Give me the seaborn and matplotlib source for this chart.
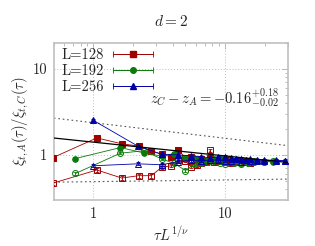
import numpy as np
import pandas as pd
import matplotlib
matplotlib.use("Agg")
import matplotlib.pyplot as plt
import seaborn as sns
from matplotlib.container import ErrorbarContainer
from matplotlib.legend_handler import HandlerErrorbar
from matplotlib.ticker import FixedLocator, FixedFormatter, LogLocator, NullFormatter

# ---------------- data ----------------
x128 = [0.49, 1.06, 1.64, 2.2, 2.75, 3.3, 3.9, 4.4, 5.0, 5.5, 6.1, 6.6, 7.2, 7.7, 8.3, 8.8, 9.9, 11.0, 12.1, 13.8, 15.4]
f128 = [0.93, 1.58, 1.35, 1.27, 1.11, 1.02, 0.95, 1.14, 0.93, 0.96, 0.87, 0.90, 0.86, 0.92, 0.88, 0.86, 0.87, 0.84, 0.82, 0.85, 0.81]
o128 = [0.47, 0.67, 0.54, 0.575, 0.575, 0.72, 0.75, 0.87, 0.85, 0.73, 0.76, 0.80, 0.82, 1.13, 0.82, 0.86, 0.84, 0.80, 0.85, 0.82, 0.84]
ef128 = [0.03, 0.04, 0.03, 0.03, 0.03, 0.03, 0.03, 0.03, 0.03, 0.03, 0.03, 0.03, 0.03, 0.03, 0.03, 0.03, 0.03, 0.03, 0.03, 0.03, 0.03]
eo128 = [0.02, 0.03, 0.03, 0.03, 0.03, 0.03, 0.03, 0.03, 0.03, 0.03, 0.03, 0.03, 0.03, 0.04, 0.03, 0.03, 0.03, 0.03, 0.03, 0.03, 0.03]

x192 = [0.73, 1.6, 2.4, 3.3, 4.1, 5.0, 5.8, 6.6, 7.4, 8.3, 9.1, 9.9, 11.6, 13.2, 14.9, 16.5, 19.8, 23.1]
f192 = [0.91, 1.22, 1.06, 0.97, 1.04, 0.93, 0.92, 0.90, 0.88, 0.90, 0.91, 0.88, 0.86, 0.87, 0.84, 0.85, 0.84, 0.83]
o192 = [0.61, 1.05, 1.12, 0.90, 0.80, 0.66, 0.78, 0.80, 0.84, 0.85, 0.81, 0.79, 0.80, 0.78, 0.81, 0.84, 0.83, 0.85]
ef192 = [0.04, 0.04, 0.03, 0.03, 0.03, 0.03, 0.03, 0.03, 0.03, 0.03, 0.03, 0.03, 0.03, 0.03, 0.03, 0.03, 0.03, 0.03]
eo192 = [0.02, 0.03, 0.03, 0.03, 0.03, 0.03, 0.03, 0.03, 0.03, 0.03, 0.03, 0.03, 0.03, 0.04, 0.03, 0.03, 0.03, 0.03]

x256 = [1.0, 2.17, 3.3, 4.4, 5.5, 6.6, 7.7, 8.8, 9.9, 11.0, 12.1, 13.2, 14.3, 15.4, 17.6, 19.8, 24.2, 28.6]
f256 = [2.52, 1.27, 1.02, 1.00, 0.98, 0.95, 0.93, 0.94, 0.96, 0.92, 0.90, 0.91, 0.88, 0.90, 0.87, 0.88, 0.86, 0.85]
o256 = [0.75, 0.79, 0.77, 0.84, 0.87, 0.85, 0.88, 0.87, 0.85, 0.86, 0.90, 0.84, 0.88, 0.86, 0.85, 0.86, 0.87, 0.86]
ef256 = [0.12, 0.05, 0.03, 0.03, 0.03, 0.03, 0.03, 0.03, 0.03, 0.03, 0.03, 0.03, 0.03, 0.03, 0.03, 0.03, 0.03, 0.03]
eo256 = [0.03, 0.03, 0.03, 0.03, 0.03, 0.03, 0.03, 0.03, 0.03, 0.03, 0.03, 0.03, 0.03, 0.03, 0.03, 0.03, 0.03, 0.03]

labels = ["L=128", "L=192", "L=256"]
fit_z = -0.16
fit_up = 0.18
fit_dn = 0.02
fit_amp = [1.41, 2.37, 0.49]

# ---------------- style ----------------
sns.set_theme(style="white")
plt.rcParams["font.family"] = ["cmr10", "DejaVu Serif"]
plt.rcParams["mathtext.fontset"] = "cm"
plt.rcParams["axes.unicode_minus"] = False
plt.rcParams["axes.formatter.use_mathtext"] = True

FS = 10.5

fig = plt.figure(figsize=(3.15, 2.46), dpi=100)
ax = fig.add_axes([0.171, 0.187, 0.743, 0.638])

colors = ["#a00000", "#0a7a0a", "#0000a8"]
markers = ["s", "o", "^"]
series = [(x128, f128, o128, ef128, eo128),
          (x192, f192, o192, ef192, eo192),
          (x256, f256, o256, ef256, eo256)]

for (x, f, o, ef, eo), c, m, lab in zip(series, colors, markers, labels):
    df = pd.DataFrame({"x": x, "f": f, "o": o})
    sns.lineplot(data=df, x="x", y="f", ax=ax, color=c, marker=m, markersize=4.0,
                 markeredgecolor=c, linewidth=0.6, sort=False, estimator=None, zorder=3)
    sns.lineplot(data=df, x="x", y="o", ax=ax, color=c, marker=m, markersize=4.3,
                 markerfacecolor="none", markeredgecolor=c, markeredgewidth=0.7,
                 linewidth=0.6, sort=False, estimator=None, zorder=3)
    ax.errorbar(x, f, yerr=ef, fmt="none", ecolor=c, elinewidth=0.6, capsize=1.5, capthick=0.6, zorder=3)
    ax.errorbar(x, o, yerr=eo, fmt="none", ecolor=c, elinewidth=0.6, capsize=1.5, capthick=0.6, zorder=3)

# fit lines
xx = np.array([0.5, 30.0])
ax.plot(xx, fit_amp[0] * xx ** fit_z, color="black", lw=0.9, zorder=4)
ax.plot(xx, fit_amp[1] * xx ** (fit_z - fit_dn), color="#555555", lw=0.8, ls=(0, (1.5, 2.5)), zorder=2)
ax.plot(xx, fit_amp[2] * xx ** (fit_z + fit_up), color="#555555", lw=0.8, ls=(0, (1.5, 2.5)), zorder=2)

ax.set_xscale("log")
ax.set_yscale("log")
ax.set_xlim(0.5, 30)
ax.set_ylim(0.3, 20)

ax.xaxis.set_major_locator(FixedLocator([1, 10]))
ax.xaxis.set_major_formatter(FixedFormatter(["1", "10"]))
ax.yaxis.set_major_locator(FixedLocator([1, 10]))
ax.yaxis.set_major_formatter(FixedFormatter(["1", "10"]))
ax.xaxis.set_minor_locator(LogLocator(base=10, subs=np.arange(2, 10)))
ax.yaxis.set_minor_locator(LogLocator(base=10, subs=np.arange(2, 10)))
ax.xaxis.set_minor_formatter(NullFormatter())
ax.yaxis.set_minor_formatter(NullFormatter())

ax.grid(True, which="major", color="#bbbbbb", linestyle=(0, (1, 2)), linewidth=0.7)
for sp in ax.spines.values():
    sp.set_color("#c0c0c0")
    sp.set_linewidth(1.2)
ax.tick_params(which="both", direction="in", top=True, right=True, color="#b0b0b0", labelsize=FS, pad=5)
ax.tick_params(which="major", length=4, width=0.6)
ax.tick_params(which="minor", length=2.5, width=0.6)

ax.set_xlabel(r"$\tau L^{1/\nu}$", fontsize=FS, labelpad=4)
ax.set_ylabel(r"$\xi_{t,A}(\tau)/\xi_{t,C}(\tau)$", fontsize=FS, labelpad=1)
ax.set_title(r"$d=2$", fontsize=11, pad=12)

ax.text(0.96, 0.645, r"$z_C - z_A = -0.16^{+0.18}_{-0.02}$", transform=ax.transAxes,
        ha="right", va="center", fontsize=FS)

# legend with gnuplot-like horizontal error-bar samples
handles = []
for c, m, lab in zip(colors, markers, labels):
    h = ax.errorbar([np.nan], [np.nan], xerr=[1.0], color=c, marker=m, markersize=4.0,
                    lw=0.6, elinewidth=0.6, capsize=2, capthick=0.6, label=lab)
    handles.append(h)
leg = ax.legend(handles=handles, labels=labels, loc="upper left", bbox_to_anchor=(-0.01, 1.03),
                frameon=False, markerfirst=False, fontsize=FS, handlelength=2.75,
                handletextpad=0.6, labelspacing=0.15, borderaxespad=0.3,
                handler_map={ErrorbarContainer: HandlerErrorbar(xerr_size=1.37, numpoints=1)})

fig.savefig("out.png", dpi=100)
